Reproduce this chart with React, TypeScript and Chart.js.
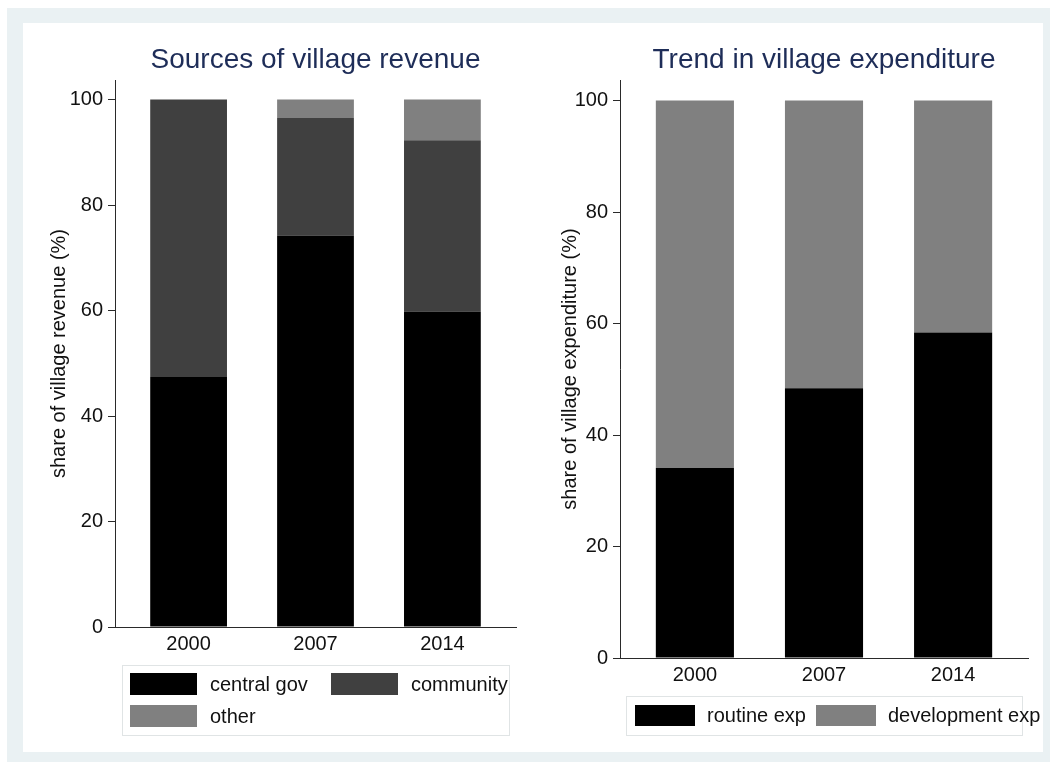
import React, { useEffect, useRef } from "react";
import { Chart, registerables } from "chart.js";

Chart.register(...registerables);

// ---- data ----
const years = ["2000", "2007", "2014"];
const centralGov = [47.4, 74.2, 59.8];
const community = [52.6, 22.3, 32.5];
const otherRev = [0, 3.5, 7.7];
const routineExp = [34.1, 48.4, 58.4];
const developmentExp = [65.9, 51.6, 41.6];
const yTicks = [0, 20, 40, 60, 80, 100];

// ---- style ----
const FONT = "'Liberation Sans', Arial, Helvetica, sans-serif";
const TITLE_COLOR = "#1e2d58";
const TEXT = "#111111";
const AXIS = "#2a2a2a";
const FRAME = "#eaf1f3";
const C_BLACK = "#000000";
const C_DARK = "#404040";
const C_GRAY = "#808080";

const boxLegend = {
  id: "boxLegend",
  afterDraw(chart: any, _args: any, opts: any) {
    if (!opts || !opts.items) return;
    const ctx = chart.ctx;
    ctx.save();
    const [bx, by, bw, bh] = opts.box;
    ctx.strokeStyle = opts.borderColor;
    ctx.lineWidth = 1;
    ctx.strokeRect(bx + 0.5, by + 0.5, bw, bh);
    ctx.font = `${opts.fontSize}px ${FONT}`;
    ctx.textBaseline = "middle";
    ctx.textAlign = "left";
    opts.items.forEach((it: any) => {
      const ds = chart.data.datasets[it.dataset];
      ctx.fillStyle = ds.backgroundColor;
      ctx.fillRect(it.x, it.y, opts.swatch[0], opts.swatch[1]);
      ctx.fillStyle = TEXT;
      ctx.fillText(ds.label, it.x + opts.textOffset, it.y + opts.swatch[1] / 2 + 1);
    });
    ctx.restore();
  },
};

function series(label: string, values: number[], color: string) {
  return {
    label,
    data: values.map((v, i) => ({ x: i, y: v })),
    backgroundColor: color,
    borderWidth: 0,
    categoryPercentage: 1,
    barPercentage: 0.605,
  };
}

function makeConfig(datasets: any[], cfg: any): any {
  const font = { family: FONT, size: 20 };
  return {
    type: "bar",
    data: { datasets },
    plugins: [boxLegend],
    options: {
      responsive: false,
      animation: false,
      events: [],
      layout: { padding: { left: 0, right: cfg.padRight, top: 0, bottom: 0 } },
      plugins: {
        legend: { display: false },
        tooltip: { enabled: false },
        title: {
          display: true,
          text: cfg.title,
          color: TITLE_COLOR,
          fullSize: false,
          font: { family: FONT, size: 28, weight: "normal" },
          padding: { top: 20, bottom: 3.4 },
        },
        boxLegend: cfg.legend,
      },
      scales: {
        x: {
          type: "linear",
          min: -0.58,
          max: 2.58,
          offset: false,
          stacked: true,
          grid: { display: false, drawTicks: false, offset: false },
          border: { display: true, color: AXIS, width: 1 },
          afterBuildTicks: (s: any) => {
            s.ticks = years.map((_, i) => ({ value: i }));
          },
          afterFit: (s: any) => {
            s.height = cfg.xHeight;
          },
          ticks: {
            callback: (v: any) => years[v],
            font,
            color: TEXT,
            padding: 5,
            autoSkip: false,
            maxRotation: 0,
          },
        },
        y: {
          min: 0,
          max: 103.7,
          stacked: true,
          afterBuildTicks: (s: any) => {
            s.ticks = yTicks.map((v) => ({ value: v }));
          },
          afterFit: (s: any) => {
            s.width = cfg.yWidth;
          },
          grid: { drawOnChartArea: false, drawTicks: true, tickLength: 7, color: AXIS },
          border: { display: true, color: AXIS, width: 1 },
          ticks: { font, color: TEXT, padding: 5 },
          title: {
            display: true,
            text: cfg.yTitle,
            font,
            color: TEXT,
            padding: { top: cfg.yTitlePad, bottom: 0 },
          },
        },
      },
    },
  };
}

export default function App() {
  const leftRef = useRef<HTMLCanvasElement>(null);
  const rightRef = useRef<HTMLCanvasElement>(null);

  useEffect(() => {
    const left = new Chart(
      leftRef.current as HTMLCanvasElement,
      makeConfig(
        [
          series("central gov", centralGov, C_BLACK),
          series("community", community, C_DARK),
          series("other", otherRev, C_GRAY),
        ],
        {
          title: "Sources of village revenue",
          yTitle: "share of village revenue (%)",
          padRight: 17,
          yWidth: 92,
          xHeight: 125,
          yTitlePad: 24,
          legend: {
            box: [99, 642, 387, 70],
            swatch: [67, 22],
            textOffset: 80,
            fontSize: 20,
            borderColor: "#e0e4e5",
            items: [
              { dataset: 0, x: 107, y: 650 },
              { dataset: 1, x: 308, y: 650 },
              { dataset: 2, x: 107, y: 682 },
            ],
          },
        }
      )
    );
    const right = new Chart(
      rightRef.current as HTMLCanvasElement,
      makeConfig(
        [
          series("routine exp", routineExp, C_BLACK),
          series("development exp", developmentExp, C_GRAY),
        ],
        {
          title: "Trend in village expenditure",
          yTitle: "share of village expenditure (%)",
          padRight: 15,
          yWidth: 87,
          xHeight: 94,
          yTitlePad: 25,
          legend: {
            box: [93, 673, 396, 39],
            swatch: [60, 21],
            textOffset: 72,
            fontSize: 20,
            borderColor: "#e0e4e5",
            items: [
              { dataset: 0, x: 102, y: 682 },
              { dataset: 1, x: 283, y: 682 },
            ],
          },
        }
      )
    );
    return () => {
      left.destroy();
      right.destroy();
    };
  }, []);

  return (
    <div
      style={{
        position: "fixed",
        left: 0,
        top: 0,
        width: 1050,
        height: 769,
        background: "#ffffff",
        overflow: "hidden",
      }}
    >
      <div style={{ position: "absolute", left: 7, top: 8, width: 1043, height: 754, background: FRAME }} />
      <div style={{ position: "absolute", left: 23, top: 23, width: 1020, height: 729, background: "#ffffff" }} />
      <canvas ref={leftRef} width={510} height={729} style={{ position: "absolute", left: 23, top: 23 }} />
      <canvas ref={rightRef} width={510} height={729} style={{ position: "absolute", left: 533, top: 23 }} />
    </div>
  );
}
